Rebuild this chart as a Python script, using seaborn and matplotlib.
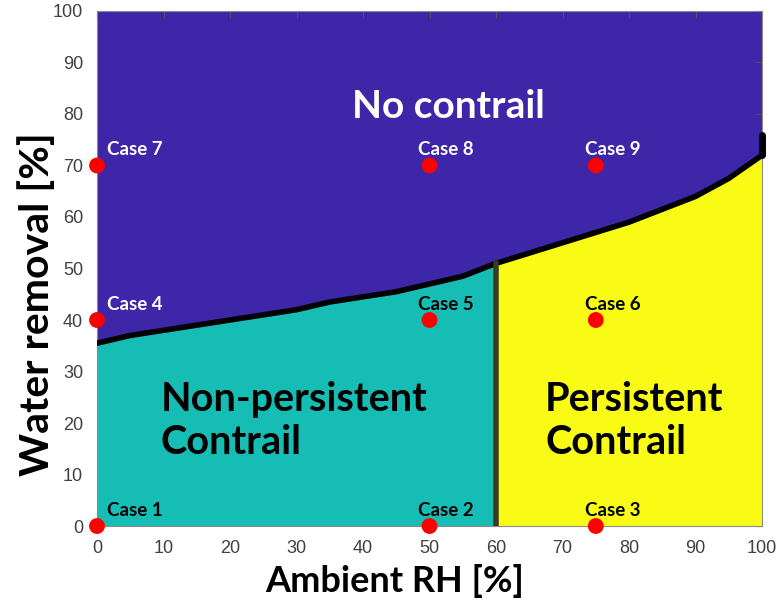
import matplotlib
matplotlib.use("Agg")
import matplotlib.pyplot as plt
import numpy as np
import pandas as pd
import seaborn as sns

sns.set_theme(style="white")

# boundary between "no contrail" and contrail regions
rh = [0, 5, 10, 15, 20, 25, 30, 35, 40, 45, 50, 55, 60, 65, 70, 75, 80, 85, 90, 95, 100]
wr = [35.5, 37, 38, 39, 40, 41, 42, 43.5, 44.5, 45.5, 47, 48.5, 51, 53, 55, 57, 59, 61.5, 64, 67.5, 72]
rh_split = 60          # non-persistent / persistent limit
wr_end_top = 76        # top of the black tick at RH = 100

# test cases
case_rh = [0, 50, 75, 0, 50, 75, 0, 50, 75]
case_wr = [0, 0, 0, 40, 40, 40, 70, 70, 70]
case_names = ["Case 1", "Case 2", "Case 3", "Case 4", "Case 5", "Case 6",
              "Case 7", "Case 8", "Case 9"]
case_colors = ["black", "black", "black", "white", "black", "black",
               "white", "white", "white"]

purple = "#3e26a8"
teal = "#15bdb5"
yellow = "#f9fb15"
tick_font = "Liberation Sans"
text_font = "Lato"

fig = plt.figure(figsize=(7.78, 6.14), dpi=100)
ax = fig.add_axes([0.1247, 0.1433, 0.8548, 0.8388])
ax.set_facecolor(purple)

rh_a = np.array(rh)
wr_a = np.array(wr)
left = rh_a <= rh_split
right = rh_a >= rh_split
ax.fill_between(rh_a[left], 0, wr_a[left], color=teal, lw=0, zorder=1)
ax.fill_between(rh_a[right], 0, wr_a[right], color=yellow, lw=0, zorder=1)

df = pd.DataFrame({"rh": rh, "wr": wr})
sns.lineplot(data=df, x="rh", y="wr", color="black", lw=4, ax=ax, zorder=3)
ax.plot([rh_split, rh_split], [0, wr[rh.index(rh_split)]], color="#3a3a1c", lw=4, zorder=3)
ax.plot([100, 100], [wr[-1], wr_end_top], color="black", lw=5, zorder=3, clip_on=False)

cases = pd.DataFrame({"rh": case_rh, "wr": case_wr})
sns.scatterplot(data=cases, x="rh", y="wr", color="red", s=130, edgecolor="none",
                ax=ax, zorder=5, clip_on=False)
for x, y, name, c in zip(case_rh, case_wr, case_names, case_colors):
    dx = 7 if x == 0 else -8
    ax.annotate(name, (x, y), xytext=(dx, 7.5), textcoords="offset points",
                color=c, fontsize=13.5, fontweight="bold", family=text_font,
                ha="left", va="baseline", zorder=6)

ax.text(52.8, 81.5, "No contrail", color="white", fontsize=28, fontweight="bold",
        family=text_font, ha="center", va="center", zorder=6)
ax.text(9.6, 20.3, "Non-persistent\nContrail", color="black", fontsize=28.5,
        fontweight="bold", family=text_font, ha="left", va="center",
        linespacing=1.2, zorder=6)
ax.text(67.4, 20.3, "Persistent\nContrail", color="black", fontsize=28.5,
        fontweight="bold", family=text_font, ha="left", va="center",
        linespacing=1.2, zorder=6)

ax.set_xlim(0, 100)
ax.set_ylim(0, 100)
ax.set_xticks(range(0, 101, 10))
ax.set_yticks(range(0, 101, 10))
ax.tick_params(direction="in", length=5, width=0.8, color="#555555",
               top=True, right=True, labelsize=13, labelcolor="#404040", pad=10)
for lab in ax.get_xticklabels() + ax.get_yticklabels():
    lab.set_family(tick_font)
for sp in ax.spines.values():
    sp.set_color("#8a8a8a")
    sp.set_linewidth(0.8)

ax.set_xlabel("Ambient RH [%]", fontsize=26, fontweight="bold", family=text_font,
              color="black")
ax.set_ylabel("Water removal [%]", fontsize=29.5, fontweight="bold", family=text_font,
              color="black")
ax.xaxis.set_label_coords(0.447, -0.074)
ax.yaxis.set_label_coords(-0.062, 0.43)

fig.savefig("out.png", dpi=100)
